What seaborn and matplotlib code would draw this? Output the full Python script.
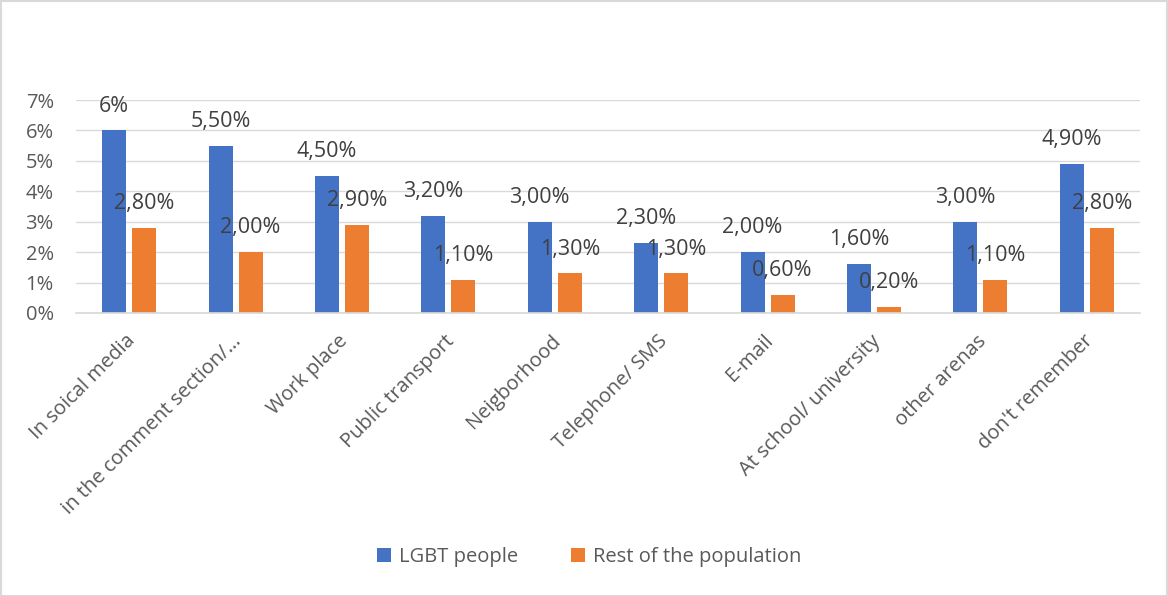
import matplotlib
matplotlib.use("Agg")
import matplotlib.pyplot as plt
import matplotlib.transforms as mtransforms
import seaborn as sns
import pandas as pd
from matplotlib.ticker import FuncFormatter, MultipleLocator
from matplotlib.patches import Rectangle

categories = ["In soical media", "in the comment section/\u2026", "Work place", "Public transport",
              "Neigborhood", "Telephone/ SMS", "E-mail", "At school/ university",
              "other arenas", "don't remember"]
lgbt = [6.0, 5.5, 4.5, 3.2, 3.0, 2.3, 2.0, 1.6, 3.0, 4.9]
rest = [2.8, 2.0, 2.9, 1.1, 1.3, 1.3, 0.6, 0.2, 1.1, 2.8]
lgbt_labels = ["6%", "5,50%", "4,50%", "3,20%", "3,00%", "2,30%", "2,00%", "1,60%", "3,00%", "4,90%"]
rest_labels = ["2,80%", "2,00%", "2,90%", "1,10%", "1,30%", "1,30%", "0,60%", "0,20%", "1,10%", "2,80%"]
series = ["LGBT people", "Rest of the population"]
colors = ["#4472C4", "#ED7D31"]

df = pd.DataFrame({
    "category": categories * 2,
    "value": lgbt + rest,
    "series": [series[0]] * len(categories) + [series[1]] * len(categories),
})

sns.set_theme(style="white")
plt.rcParams["font.family"] = ["Open Sans", "DejaVu Sans"]

fig = plt.figure(figsize=(11.68, 5.96), dpi=100)
ax = fig.add_axes([76/1168, 1 - 313/596, (1140-76)/1168, (313-100)/596])

sns.barplot(data=df, x="category", y="value", hue="series", palette=colors,
            width=0.564, gap=0.2, ax=ax, saturation=1, legend=True, linewidth=0)

ax.set_ylim(0, 7)
ax.set_xlim(-0.5, len(categories) - 0.5)
ax.yaxis.set_major_locator(MultipleLocator(1))
ax.yaxis.set_major_formatter(FuncFormatter(lambda v, p: f"{v:.0f}%"))
ax.grid(axis="y", color="#D9D9D9", linewidth=1)
ax.set_axisbelow(True)
for s in ["top", "right", "left"]:
    ax.spines[s].set_visible(False)
ax.spines["bottom"].set_color("#D9D9D9")
ax.set_xlabel("")
ax.set_ylabel("")
ax.tick_params(axis="y", labelsize=14.5, colors="#595959", length=0, pad=16)
ax.tick_params(axis="x", labelsize=14.5, colors="#595959", length=0, pad=13)
shift = mtransforms.ScaledTranslation(-4/100, 0, fig.dpi_scale_trans)
for lab in ax.get_xticklabels():
    lab.set_rotation(45)
    lab.set_ha("right")
    lab.set_rotation_mode("anchor")
    lab.set_transform(lab.get_transform() + shift)

for cont, labs in zip(ax.containers, [lgbt_labels, rest_labels]):
    ax.bar_label(cont, labels=labs, padding=10, fontsize=15.5, color="#404040")

leg = ax.legend(loc="center", bbox_to_anchor=((589 - 76) / 1064, -(557 - 313) / 213),
                ncol=2, frameon=False, fontsize=14.5, handlelength=0.7, handleheight=0.7,
                columnspacing=2.6, handletextpad=0.4)
for t in leg.get_texts():
    t.set_color("#595959")

fig.patches.append(Rectangle((0.5/1168, 0.5/596), 1 - 1.5/1168, 1 - 1.5/596, transform=fig.transFigure,
                             fill=False, edgecolor="#D9D9D9", linewidth=1.5))

fig.savefig("out.png", dpi=100)
